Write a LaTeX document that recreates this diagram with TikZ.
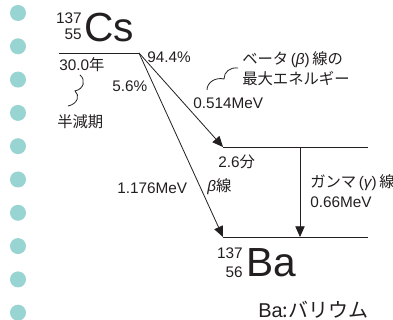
\documentclass[tikz,border=0pt]{standalone}
\usepackage{fontspec}
\setmainfont{Liberation Sans}
\newfontfamily\jp{Noto Sans CJK JP}
\usetikzlibrary{arrows.meta}
\definecolor{dotc}{HTML}{97D4D2}
\definecolor{ink}{HTML}{231F20}
\begin{document}
\begin{tikzpicture}[x=0.75pt,y=-0.75pt,
  lbl/.style={inner sep=0pt,text=ink,font=\fontsize{11.5}{13}\selectfont},
  big/.style={inner sep=0pt,text=ink,font=\fontsize{30.5}{32}\selectfont},
  lvl/.style={draw=ink,line width=0.7pt},
  arr/.style={draw=ink,line width=0.6pt,-{Triangle[length=8pt,width=7pt]}},
  brc/.style={draw=ink,line width=0.6pt},
  dot/.style={circle,fill=dotc,minimum size=12pt,inner sep=0pt}]
\useasboundingbox (0,0) rectangle (393,320);
% dots
\foreach \i in {0,...,9} {\node[dot] (d\i) at (18,{13+33.3*\i}) {};}
% Cs
\node[lbl,anchor=east] (cs137) at (82,18) {137};
\node[lbl,anchor=east] (cs55) at (82,34) {55};
\node[big,anchor=base west] (cs) at (84,42) {Cs};
% levels
\coordinate (csL) at (59,53);
\coordinate (csR) at (139,53);
\coordinate (midL) at (223,147);
\coordinate (midR) at (368,147);
\coordinate (baL) at (223,237);
\coordinate (baR) at (368,237);
\coordinate (gtop) at (300,147);
\coordinate (gbot) at (300,237);
\draw[lvl] (csL) -- (csR);
\draw[lvl] (midL) -- (midR);
\draw[lvl] (baL) -- (baR);
\draw[arr] (csR) -- (midL);
\draw[arr] (csR) -- (baL);
\draw[arr] (gtop) -- (gbot);
% labels
\node[lbl,anchor=west] (p944) at (147,57) {94.4\%};
\node[lbl,anchor=west] (hl) at (59,65) {30.0{\jp 年}};
\node[lbl,anchor=west] (p56) at (112,86) {5.6\%};
\node[lbl,anchor=west] (hlj) at (57,122) {\jp 半減期};
\node[lbl,anchor=west] (bt1) at (242,60) {{\jp ベータ}\,({\itshape β})\,{\jp 線の}};
\node[lbl,anchor=west] (bt2) at (242,79) {\jp 最大エネルギー};
\node[lbl,anchor=west] (e514) at (193,103) {0.514MeV};
\node[lbl,anchor=west] (t26) at (218,162) {2.6{\jp 分}};
\node[lbl,anchor=west] (bl) at (207,187) {{\itshape β}{\jp 線}};
\node[lbl,anchor=west] (e1176) at (117,188) {1.176MeV};
\node[lbl,anchor=west] (gm) at (310,183) {{\jp ガンマ}\,({\itshape γ})\,{\jp 線}};
\node[lbl,anchor=west] (e066) at (310,202) {0.66MeV};
% Ba
\node[lbl,anchor=east] (ba137) at (243,253) {137};
\node[lbl,anchor=east] (ba56) at (243,272) {56};
\node[big,anchor=base west] (ba) at (246,277) {Ba};
\node[lbl,anchor=west,font=\fontsize{15}{17}\selectfont] (baname) at (258,310) {Ba{\jp :バリウム}};
% braces
\draw[brc] (80,75) .. controls (86,80) and (84,89) .. (75,91)
           .. controls (80,95) and (78,104) .. (68,106);
\draw[brc] (207,90) .. controls (207,82) and (216,77) .. (224,79)
           .. controls (224,72) and (230,67) .. (238,68);
\end{tikzpicture}
\end{document}
